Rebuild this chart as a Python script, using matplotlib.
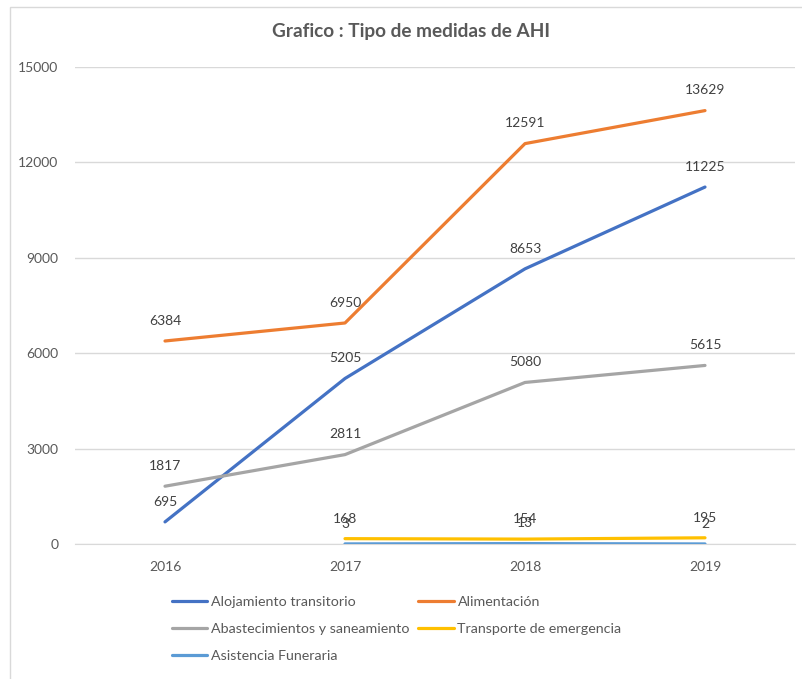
import matplotlib.pyplot as plt
from matplotlib.patches import Rectangle

plt.rcParams['font.family'] = ['Lato', 'DejaVu Sans']

# datos
years = ["2016", "2017", "2018", "2019"]
alojamiento = [695, 5205, 8653, 11225]
alimentacion = [6384, 6950, 12591, 13629]
abastecimientos = [1817, 2811, 5080, 5615]
transporte = [None, 168, 154, 195]
asistencia = [None, 3, 13, 2]
y_ticks = [0, 3000, 6000, 9000, 12000, 15000]

series = [
    ("Alojamiento transitorio", alojamiento, "#4472C4"),
    ("Alimentación", alimentacion, "#ED7D31"),
    ("Abastecimientos y saneamiento", abastecimientos, "#A5A5A5"),
    ("Transporte de emergencia", transporte, "#FFC000"),
    ("Asistencia Funeraria", asistencia, "#5B9BD5"),
]

txt = "#595959"

fig = plt.figure(figsize=(8.03, 6.79), dpi=100)
ax = fig.add_axes([75 / 803, 1 - 544 / 679, 720 / 803, 477 / 679])

# borde del area del grafico
fig.patches.append(Rectangle((10 / 803, -0.05), 1.0, 1 - 7 / 679 + 0.05,
                             transform=fig.transFigure, fill=False,
                             edgecolor="#D9D9D9", linewidth=1.0))

handles = {}
for name, vals, color in series:
    xs = [i for i, v in enumerate(vals) if v is not None]
    ys = [v for v in vals if v is not None]
    ln, = ax.plot(xs, ys, color=color, linewidth=2.3, solid_capstyle="round", zorder=3)
    handles[name] = ln
    for x, y in zip(xs, ys):
        ax.annotate(str(y), (x, y), xytext=(0, 14.5), textcoords="offset points",
                    ha="center", va="center", fontsize=10, color="#404040", zorder=4)

ax.set_xlim(-0.5, 3.5)
ax.set_ylim(0, 15000)
ax.set_yticks(y_ticks)
ax.set_yticklabels([str(t) for t in y_ticks])
ax.set_xticks(range(len(years)))
ax.set_xticklabels(years)
ax.tick_params(axis="y", length=0, pad=12, labelsize=10, labelcolor=txt)
ax.tick_params(axis="x", length=0, pad=12, labelsize=10, labelcolor=txt)
ax.grid(axis="y", color="#D9D9D9", linewidth=1.0, zorder=0)
for s in ["top", "right", "left"]:
    ax.spines[s].set_visible(False)
ax.spines["bottom"].set_color("#D9D9D9")

fig.text(411 / 803, 1 - 32 / 679, "Grafico : Tipo de medidas de AHI", ha="center",
         va="center", fontsize=13.7, fontweight="bold", color=txt)

# leyenda en filas (reordenada para ncol=2)
order = ["Alojamiento transitorio", "Abastecimientos y saneamiento", "Asistencia Funeraria",
         "Alimentación", "Transporte de emergencia"]
leg = fig.legend([handles[n] for n in order], order, ncol=2, loc="upper left",
                 bbox_to_anchor=(166 / 803, 1 - 590 / 679), frameon=False,
                 fontsize=10.3, handlelength=2.5, handletextpad=0.25,
                 columnspacing=0.6, labelspacing=1.05, borderaxespad=0)
for t in leg.get_texts():
    t.set_color(txt)

fig.savefig("out.png", dpi=100)
